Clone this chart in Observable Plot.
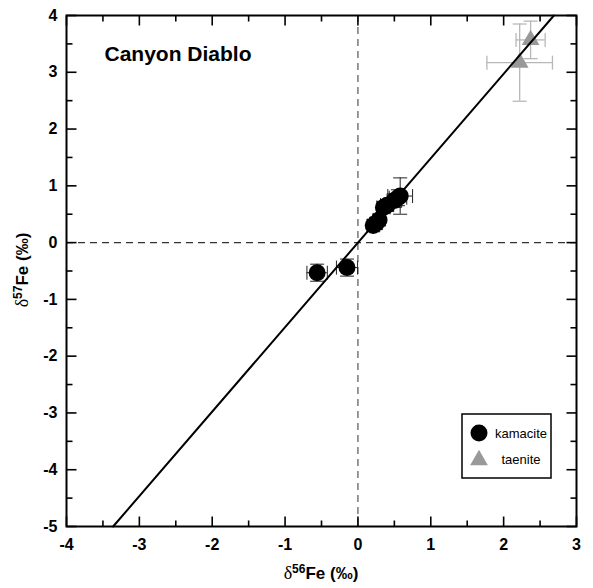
<!DOCTYPE html>
<html><head><meta charset="utf-8">
<script src="https://cdn.jsdelivr.net/npm/d3@7"></script>
<script src="https://cdn.jsdelivr.net/npm/@observablehq/plot@0.6"></script>
<style>
body{margin:0;background:#fff;font-family:"Liberation Sans",Arial,sans-serif}
#chart{width:593px;height:588px}
</style>
</head><body><div id="chart"></div>
<script>
// ---- data ----
const kamaciteX    = [-0.56, -0.15, 0.21, 0.25, 0.29, 0.35, 0.40, 0.50, 0.55, 0.58];
const kamaciteY    = [-0.53, -0.44, 0.30, 0.34, 0.40, 0.62, 0.66, 0.74, 0.79, 0.82];
const kamaciteErrX = [0.14, 0.145, 0.08, 0.08, 0.08, 0.09, 0.09, 0.10, 0.12, 0.17];
const kamaciteErrY = [0.15, 0.15, 0.10, 0.10, 0.10, 0.10, 0.10, 0.12, 0.14, 0.32];
const taeniteX    = [2.22, 2.37];
const taeniteY    = [3.17, 3.57];
const taeniteErrX = [0.45, 0.20];
const taeniteErrY = [0.68, 0.33];
const fitX = [-3.36, 2.69];
const fitY = [-5, 4];
const xTicks = [-4, -3, -2, -1, 0, 1, 2, 3];
const yTicks = [-5, -4, -3, -2, -1, 0, 1, 2, 3, 4];
const xMinor = [-3.5, -2.5, -1.5, -0.5, 0.5, 1.5, 2.5];
const yMinor = [-4.5, -3.5, -2.5, -1.5, -0.5, 0.5, 1.5, 2.5, 3.5];
const title = "Canyon Diablo";
const seriesNames = ["kamacite", "taenite"];

const kam = kamaciteX.map((x, i) => ({x, y: kamaciteY[i], ex: kamaciteErrX[i], ey: kamaciteErrY[i]}));
const tae = taeniteX.map((x, i) => ({x, y: taeniteY[i], ex: taeniteErrX[i], ey: taeniteErrY[i]}));
const fit = fitX.map((x, i) => ({x, y: fitY[i]}));

// custom symbols (fixed pixel lengths)
const seg = (x1, y1, x2, y2) => ({draw(c) { c.moveTo(x1, y1); c.lineTo(x2, y2); }});
const tickUp = L => seg(0, 0, 0, -L), tickDown = L => seg(0, 0, 0, L);
const tickRight = L => seg(0, 0, L, 0), tickLeft = L => seg(0, 0, -L, 0);
const vCap = L => seg(0, -L / 2, 0, L / 2), hCap = L => seg(-L / 2, 0, L / 2, 0);

const tk = {fill: "none", stroke: "black", strokeWidth: 1.6};
const kamErr = {stroke: "#222", strokeWidth: 1};
const taeErr = {stroke: "#b8b8b8", strokeWidth: 1.3};
const fmt = d => String(d);

const chart = Plot.plot({
  width: 593, height: 588,
  marginLeft: 66, marginRight: 17, marginTop: 15, marginBottom: 62,
  style: {fontFamily: "'Liberation Sans', Arial, sans-serif", background: "white"},
  x: {domain: [-4, 3], label: null},
  y: {domain: [-5, 4], label: null},
  marks: [
    Plot.ruleX([0], {stroke: "#555", strokeWidth: 1.2, strokeDasharray: "7,5"}),
    Plot.ruleY([0], {stroke: "#333", strokeWidth: 1.2, strokeDasharray: "7,5"}),
    // taenite error bars
    Plot.ruleY(tae, {y: "y", x1: d => d.x - d.ex, x2: d => d.x + d.ex, ...taeErr}),
    Plot.ruleX(tae, {x: "x", y1: d => d.y - d.ey, y2: d => d.y + d.ey, ...taeErr}),
    Plot.dot(tae, {x: d => d.x - d.ex, y: "y", symbol: vCap(14), fill: "none", ...taeErr}),
    Plot.dot(tae, {x: d => d.x + d.ex, y: "y", symbol: vCap(14), fill: "none", ...taeErr}),
    Plot.dot(tae, {x: "x", y: d => d.y - d.ey, symbol: hCap(14), fill: "none", ...taeErr}),
    Plot.dot(tae, {x: "x", y: d => d.y + d.ey, symbol: hCap(14), fill: "none", ...taeErr}),
    // kamacite error bars
    Plot.ruleY(kam, {y: "y", x1: d => d.x - d.ex, x2: d => d.x + d.ex, ...kamErr}),
    Plot.ruleX(kam, {x: "x", y1: d => d.y - d.ey, y2: d => d.y + d.ey, ...kamErr}),
    Plot.dot(kam, {x: d => d.x - d.ex, y: "y", symbol: vCap(14), fill: "none", ...kamErr}),
    Plot.dot(kam, {x: d => d.x + d.ex, y: "y", symbol: vCap(14), fill: "none", ...kamErr}),
    Plot.dot(kam, {x: "x", y: d => d.y - d.ey, symbol: hCap(14), fill: "none", ...kamErr}),
    Plot.dot(kam, {x: "x", y: d => d.y + d.ey, symbol: hCap(14), fill: "none", ...kamErr}),
    // points
    Plot.dot(tae, {x: "x", y: "y", symbol: "triangle", r: 6.6, fill: "#999", stroke: "none"}),
    Plot.dot(kam, {x: "x", y: "y", r: 8.5, fill: "black", stroke: "none"}),
    // regression line
    Plot.line(fit, {x: "x", y: "y", stroke: "black", strokeWidth: 2}),
    // frame + inward ticks
    Plot.frame({stroke: "black", strokeWidth: 2}),
    Plot.dot(xTicks, {x: d => d, frameAnchor: "bottom", symbol: tickUp(10), ...tk}),
    Plot.dot(xMinor, {x: d => d, frameAnchor: "bottom", symbol: tickUp(6), ...tk}),
    Plot.dot(xTicks, {x: d => d, frameAnchor: "top", symbol: tickDown(10), ...tk}),
    Plot.dot(xMinor, {x: d => d, frameAnchor: "top", symbol: tickDown(6), ...tk}),
    Plot.dot(yTicks, {y: d => d, frameAnchor: "left", symbol: tickRight(10), ...tk}),
    Plot.dot(yMinor, {y: d => d, frameAnchor: "left", symbol: tickRight(6), ...tk}),
    Plot.dot(yTicks, {y: d => d, frameAnchor: "right", symbol: tickLeft(10), ...tk}),
    Plot.dot(yMinor, {y: d => d, frameAnchor: "right", symbol: tickLeft(6), ...tk}),
    Plot.axisX(xTicks, {tickSize: 0, tickPadding: 12, tickFormat: fmt, fontSize: 16, fontWeight: "bold", fill: "black"}),
    Plot.axisY(yTicks, {tickSize: 0, tickPadding: 9, tickFormat: fmt, fontSize: 16, fontWeight: "bold", fill: "black"}),
    // title
    Plot.text([title], {frameAnchor: "top-left", dx: 38, dy: 31, text: d => d, fontSize: 21, fontWeight: "bold", textAnchor: "start", fill: "black"})
  ]
});
document.getElementById("chart").appendChild(chart);

// ---- axis labels with superscripts ----
const svg = d3.select(chart);
function richLabel(g, sup) {
  g.append("tspan").attr("font-family", "'Liberation Serif', 'Times New Roman', serif").attr("font-weight", "normal").attr("font-size", 18).text("δ");
  g.append("tspan").attr("font-size", 12).attr("font-weight", "bold").attr("dy", -6).text(sup);
  g.append("tspan").attr("font-size", 17).attr("font-weight", "bold").attr("dy", 6).text("Fe (‰)");
}
const xl = svg.append("text").attr("x", 321).attr("y", 579).attr("text-anchor", "middle")
  .attr("font-family", "'Liberation Sans', Arial, sans-serif").attr("fill", "black");
richLabel(xl, "56");
const yl = svg.append("text").attr("transform", "translate(28,270) rotate(-90)").attr("text-anchor", "middle")
  .attr("font-family", "'Liberation Sans', Arial, sans-serif").attr("fill", "black");
richLabel(yl, "57");

// ---- legend ----
const lg = svg.append("g").attr("font-family", "'Liberation Sans', Arial, sans-serif");
lg.append("rect").attr("x", 462).attr("y", 414).attr("width", 89).attr("height", 64)
  .attr("fill", "white").attr("stroke", "black").attr("stroke-width", 1.5);
lg.append("circle").attr("cx", 479).attr("cy", 433).attr("r", 8.5).attr("fill", "black");
lg.append("path").attr("transform", "translate(479,460)")
  .attr("d", d3.symbol(d3.symbolTriangle, Math.PI * 6.6 * 6.6)()).attr("fill", "#999");
lg.append("text").attr("x", 521).attr("y", 438).attr("text-anchor", "middle").attr("font-size", 13).text(seriesNames[0]);
lg.append("text").attr("x", 521).attr("y", 464).attr("text-anchor", "middle").attr("font-size", 13).text(seriesNames[1]);
</script>
</body></html>
